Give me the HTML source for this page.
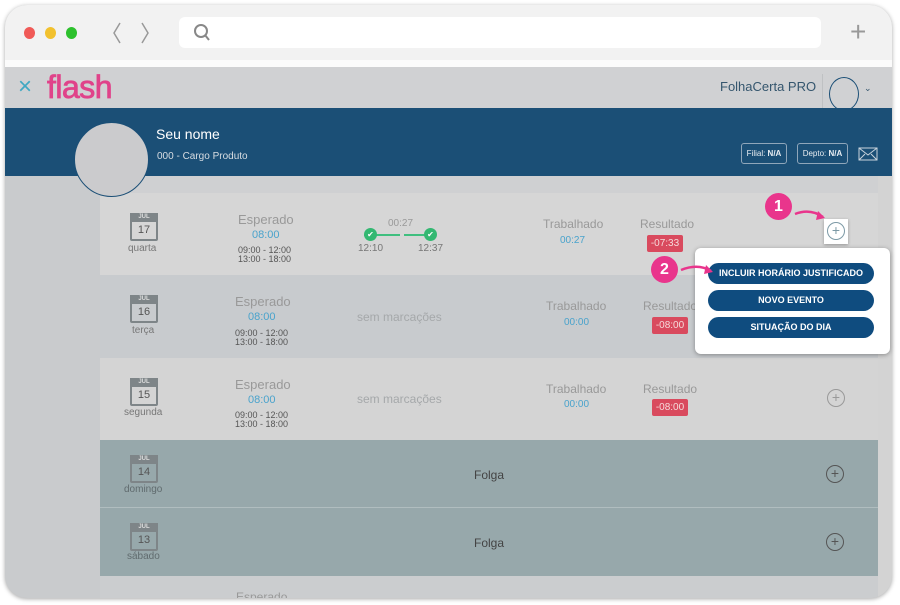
<!DOCTYPE html>
<html><head><meta charset="utf-8"><style>
*{margin:0;padding:0;box-sizing:border-box}
body{width:900px;height:605px;background:#fff;position:relative;overflow:hidden;font-family:"Liberation Sans",sans-serif}
.a{position:absolute}
.win{left:5px;top:5px;width:887px;height:593px;border-radius:22px;overflow:hidden;background:#c9cbcd;box-shadow:0 1px 4px rgba(0,0,0,.35)}
.t{position:absolute;white-space:nowrap}
.cal{position:absolute;width:28px;height:28px;border:2px solid #7e8588;border-radius:2px;background:transparent}
.cal .h{position:absolute;left:-2px;top:-2px;width:28px;height:9px;background:#7e8588;color:#ddd;font-size:6px;text-align:center;line-height:9px;font-weight:bold}
.cal .d{position:absolute;left:0;top:9px;width:24px;text-align:center;font-size:11px;color:#555}
.btn{position:absolute;left:13px;width:166px;height:21px;border-radius:11px;background:#0f4c7f;color:#fff;font-size:9px;font-weight:bold;text-align:center;line-height:21px}
.plus{position:absolute;width:18px;height:18px;border:1.5px solid #555;border-radius:50%;text-align:center;line-height:15px;font-size:14px;color:#555}
</style></head><body>
<div class="a win">
 <div class="a" style="left:0;top:0;width:887px;height:55px;background:#f2f2f2"></div>
 <div class="a" style="left:0;top:55px;width:887px;height:7px;background:#fbfbfb"></div>
 <div class="a" style="left:19px;top:22px;width:11px;height:12px;border-radius:50%;background:#f05a57"></div>
 <div class="a" style="left:40px;top:22px;width:11px;height:12px;border-radius:50%;background:#f2c12e"></div>
 <div class="a" style="left:61px;top:22px;width:11px;height:12px;border-radius:50%;background:#2dc12d"></div>
 <svg class="a" style="left:100px;top:15px" width="60" height="26"><path d="M15 3 L9 13 L15 23 M37 3 L43 13 L37 23" fill="none" stroke="#999" stroke-width="1.5"/></svg>
 <div class="a" style="left:174px;top:12px;width:642px;height:31px;border-radius:6px;background:#fff"></div>
 <svg class="a" style="left:188px;top:18px" width="20" height="20"><circle cx="8" cy="8" r="6" fill="none" stroke="#888" stroke-width="2"/><path d="M12 12 L16 17" stroke="#888" stroke-width="2"/></svg>
 <div class="t" style="left:845px;top:11px;font-size:28px;color:#999;font-weight:300">+</div>
 <!-- app header -->
 <div class="a" style="left:0;top:62px;width:887px;height:41px;background:#d0d1d3"></div>
 <div class="t" style="left:13px;top:68px;font-size:24px;color:#3fa8c2">×</div>
 <div class="t" style="left:42px;top:64px;font-size:32px;color:#e0438a;letter-spacing:-0.5px;-webkit-text-stroke:0.8px #e0438a">flash</div>
 <div class="t" style="left:715px;top:74px;font-size:13px;color:#35566e">FolhaCerta PRO</div>
 <div class="a" style="left:817px;top:69px;width:1px;height:34px;background:#bfc1c3"></div>
 <div class="a" style="left:824px;top:72px;width:30px;height:34px;border:1.5px solid #1b4f76;border-radius:50%"></div>
 <div class="t" style="left:859px;top:78px;font-size:9px;color:#35566e">⌄</div>
 <!-- blue band -->
 <div class="a" style="left:0;top:103px;width:887px;height:68px;background:#1b4f76"></div>
 <div class="t" style="left:151px;top:121px;font-size:14px;color:#fff">Seu nome</div>
 <div class="t" style="left:152px;top:146px;font-size:10px;color:#d8dde2">000 - Cargo Produto</div>
 <div class="a" style="left:736px;top:138px;width:46px;height:21px;border:1px solid #8fa6ba;border-radius:3px;color:#e8edf2;font-size:8px;text-align:center;line-height:19px">Filial: <b>N/A</b></div>
 <div class="a" style="left:792px;top:138px;width:51px;height:21px;border:1px solid #8fa6ba;border-radius:3px;color:#e8edf2;font-size:8px;text-align:center;line-height:19px">Depto: <b>N/A</b></div>
 <svg class="a" style="left:853px;top:142px" width="20" height="14"><rect x="1" y="1" width="18" height="12" fill="none" stroke="#c8d3dc"/><path d="M1 1 L10 8 L19 1 M1 13 L7 7 M19 13 L13 7" fill="none" stroke="#c8d3dc"/></svg>
 <!-- panel -->
 <div class="a" style="left:95px;top:171px;width:778px;height:422px;background:#cfd0d2"></div>
 <div class="a" style="left:873px;top:171px;width:14px;height:422px;background:#d3d3d3"></div>
 <div class="a" style="left:95px;top:188px;width:778px;height:82px;background:#d6d6d6"></div>
 <div class="a" style="left:95px;top:270px;width:778px;height:83px;background:#c8cbce"></div>
 <div class="a" style="left:95px;top:353px;width:778px;height:82px;background:#d4d4d4"></div>
 <div class="a" style="left:95px;top:435px;width:778px;height:67px;background:#97a8ab"></div>
 <div class="a" style="left:95px;top:502px;width:778px;height:1px;background:#b0bdbf"></div>
 <div class="a" style="left:95px;top:503px;width:778px;height:68px;background:#97a8ab"></div>
 <div class="a" style="left:95px;top:571px;width:778px;height:22px;background:#cbcdcf"></div>
 <!-- avatar -->
 <div class="a" style="left:69px;top:117px;width:75px;height:75px;border-radius:50%;background:#cbcbcd;border:1.5px solid #1b4f76"></div>
 <!-- row1 -->
 <div class="cal" style="left:125px;top:208px"><div class="h">JUL</div><div class="d">17</div></div>
 <div class="t" style="left:123px;top:238px;font-size:10px;color:#777">quarta</div>
 <div class="t" style="left:233px;top:207px;font-size:13px;color:#999">Esperado</div>
 <div class="t" style="left:247px;top:224px;font-size:11px;color:#4aa3cc">08:00</div>
 <div class="t" style="left:233px;top:241px;font-size:9px;color:#555;line-height:9px">09:00 - 12:00<br>13:00 - 18:00</div>
 <div class="t" style="left:383px;top:213px;font-size:10px;color:#999">00:27</div>
 <div class="a" style="left:359px;top:229px;width:65px;height:2px;background:#3fbf7f"></div>
 <div class="a" style="left:395px;top:228px;width:4px;height:4px;background:#d6d6d6"></div>
 <div class="a" style="left:359px;top:223px;width:13px;height:13px;border-radius:50%;background:#33b872;color:#fff;font-size:8px;text-align:center;line-height:13px">✔</div>
 <div class="a" style="left:419px;top:223px;width:13px;height:13px;border-radius:50%;background:#33b872;color:#fff;font-size:8px;text-align:center;line-height:13px">✔</div>
 <div class="t" style="left:353px;top:238px;font-size:10px;color:#777">12:10</div>
 <div class="t" style="left:413px;top:238px;font-size:10px;color:#777">12:37</div>
 <div class="t" style="left:538px;top:212px;font-size:12px;color:#999">Trabalhado</div>
 <div class="t" style="left:555px;top:230px;font-size:10px;color:#4aa3cc">00:27</div>
 <div class="t" style="left:635px;top:212px;font-size:12px;color:#999">Resultado</div>
 <div class="a" style="left:642px;top:230px;width:36px;height:17px;background:#d94a5e;color:#f5dada;font-size:10px;text-align:center;line-height:17px;border-radius:2px">-07:33</div>
 <div class="a" style="left:819px;top:214px;width:24px;height:25px;background:#fff;box-shadow:0 1px 3px rgba(0,0,0,.3)"></div>
 <div class="plus" style="left:822px;top:217px;border-color:#7d9aa6;color:#7d9aa6">+</div>
 <!-- row2 -->
 <div class="cal" style="left:125px;top:290px"><div class="h">JUL</div><div class="d">16</div></div>
 <div class="t" style="left:127px;top:320px;font-size:10px;color:#777">terça</div>
 <div class="t" style="left:230px;top:289px;font-size:13px;color:#999">Esperado</div>
 <div class="t" style="left:243px;top:306px;font-size:11px;color:#4aa3cc">08:00</div>
 <div class="t" style="left:230px;top:324px;font-size:9px;color:#555;line-height:9px">09:00 - 12:00<br>13:00 - 18:00</div>
 <div class="t" style="left:352px;top:305px;font-size:12px;color:#a5a8aa">sem marcações</div>
 <div class="t" style="left:541px;top:294px;font-size:12px;color:#999">Trabalhado</div>
 <div class="t" style="left:559px;top:312px;font-size:10px;color:#4aa3cc">00:00</div>
 <div class="t" style="left:638px;top:294px;font-size:12px;color:#999">Resultado</div>
 <div class="a" style="left:647px;top:312px;width:36px;height:17px;background:#d94a5e;color:#f5dada;font-size:10px;text-align:center;line-height:17px;border-radius:2px">-08:00</div>
 <!-- row3 -->
 <div class="cal" style="left:125px;top:373px"><div class="h">JUL</div><div class="d">15</div></div>
 <div class="t" style="left:119px;top:402px;font-size:10px;color:#777">segunda</div>
 <div class="t" style="left:230px;top:372px;font-size:13px;color:#999">Esperado</div>
 <div class="t" style="left:243px;top:389px;font-size:11px;color:#4aa3cc">08:00</div>
 <div class="t" style="left:230px;top:406px;font-size:9px;color:#555;line-height:9px">09:00 - 12:00<br>13:00 - 18:00</div>
 <div class="t" style="left:352px;top:387px;font-size:12px;color:#a5a8aa">sem marcações</div>
 <div class="t" style="left:541px;top:377px;font-size:12px;color:#999">Trabalhado</div>
 <div class="t" style="left:559px;top:394px;font-size:10px;color:#4aa3cc">00:00</div>
 <div class="t" style="left:638px;top:377px;font-size:12px;color:#999">Resultado</div>
 <div class="a" style="left:647px;top:394px;width:36px;height:17px;background:#d94a5e;color:#f5dada;font-size:10px;text-align:center;line-height:17px;border-radius:2px">-08:00</div>
 <div class="plus" style="left:822px;top:384px;border-color:#999;color:#999">+</div>
 <!-- row4 -->
 <div class="cal" style="left:125px;top:450px"><div class="h">JUL</div><div class="d">14</div></div>
 <div class="t" style="left:119px;top:479px;font-size:10px;color:#606b6e">domingo</div>
 <div class="t" style="left:469px;top:463px;font-size:12px;color:#444">Folga</div>
 <div class="plus" style="left:821px;top:460px">+</div>
 <!-- row5 -->
 <div class="cal" style="left:125px;top:518px"><div class="h">JUL</div><div class="d">13</div></div>
 <div class="t" style="left:122px;top:546px;font-size:10px;color:#606b6e">sábado</div>
 <div class="t" style="left:469px;top:531px;font-size:12px;color:#444">Folga</div>
 <div class="plus" style="left:821px;top:528px">+</div>
 <div class="t" style="left:231px;top:585px;font-size:12px;color:#999">Esperado</div>
</div>
<!-- popup -->
<div class="a" style="left:695px;top:248px;width:195px;height:106px;background:#fff;border-radius:6px;box-shadow:0 1px 5px rgba(0,0,0,.35)">
 <div class="btn" style="top:15px">INCLUIR HORÁRIO JUSTIFICADO</div>
 <div class="btn" style="top:42px">NOVO EVENTO</div>
 <div class="btn" style="top:69px">SITUAÇÃO DO DIA</div>
</div>
<!-- markers -->
<div class="a" style="left:765px;top:193px;width:27px;height:27px;border-radius:50%;background:#e9358c;color:#fff;font-weight:bold;font-size:16px;text-align:center;line-height:27px">1</div>
<div class="a" style="left:651px;top:256px;width:27px;height:27px;border-radius:50%;background:#e9358c;color:#fff;font-weight:bold;font-size:16px;text-align:center;line-height:27px">2</div>
<svg class="a" style="left:0;top:0" width="900" height="605"><path d="M795 214 Q810 208 823 217" fill="none" stroke="#e9358c" stroke-width="2.5"/><path d="M818 211 L825 218 L816 220 Z" fill="#e9358c"/><path d="M681 270 Q698 263 711 271" fill="none" stroke="#e9358c" stroke-width="2.5"/><path d="M706 265 L713 272 L704 274 Z" fill="#e9358c"/></svg>
</body></html>
